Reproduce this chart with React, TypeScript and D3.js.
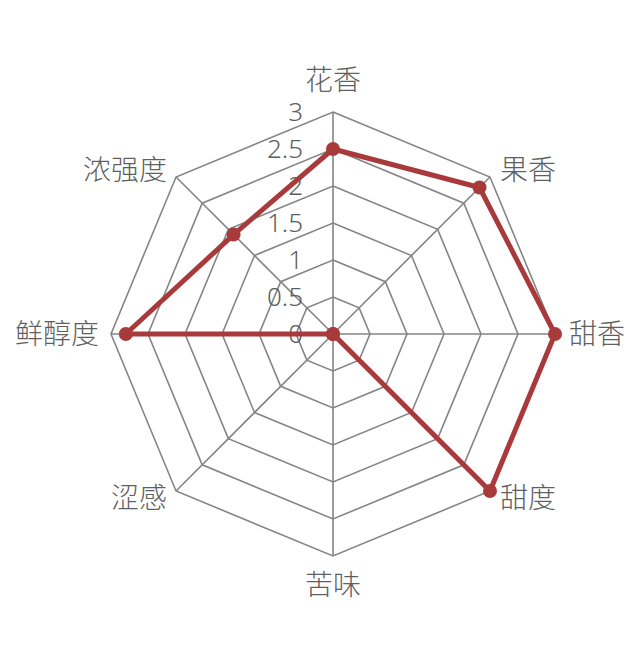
import * as d3 from "d3";
import { useEffect, useRef } from "react";

const WIDTH = 640;
const HEIGHT = 648;

const axes = ["花香", "果香", "甜香", "甜度", "苦味", "涩感", "鲜醇度", "浓强度"];
const values = [2.5, 2.8, 3, 3, 0, 0, 2.8, 1.9];
const ticks = [0, 0.5, 1, 1.5, 2, 2.5, 3];

export default function App() {
    const svgRef = useRef<SVGSVGElement | null>(null);

    useEffect(() => {
        if (!svgRef.current) return;
        const svg = d3.select(svgRef.current);
        svg.selectAll("*").remove();

        const cx = 333;
        const cy = 334;
        const r = d3.scaleLinear().domain([0, 3]).range([0, 222]);
        const angle = d3.scaleLinear().domain([0, axes.length]).range([0, 2 * Math.PI]);
        const pt = (i: number, v: number): [number, number] => [
            cx + r(v) * Math.sin(angle(i)),
            cy - r(v) * Math.cos(angle(i)),
        ];

        const font = "'Noto Sans CJK SC', 'Microsoft YaHei', sans-serif";
        const grid = "#858585";
        const red = "#a93a3c";
        const g = svg.append("g");

        // rings
        ticks.slice(1).forEach((t) => {
            g.append("polygon")
                .attr("points", axes.map((_, i) => pt(i, t).join(",")).join(" "))
                .attr("fill", "none")
                .attr("stroke", grid)
                .attr("stroke-width", 1.6);
        });

        // spokes
        axes.forEach((_, i) => {
            const [x, y] = pt(i, 3);
            g.append("line")
                .attr("x1", cx)
                .attr("y1", cy)
                .attr("x2", x)
                .attr("y2", y)
                .attr("stroke", grid)
                .attr("stroke-width", 1.6);
        });

        // tick labels
        g.selectAll("text.tick")
            .data(ticks)
            .enter()
            .append("text")
            .attr("x", cx - 30)
            .attr("y", (d) => cy - r(d))
            .attr("dy", "0.36em")
            .attr("text-anchor", "end")
            .attr("fill", "#5f5f5f")
            .attr("font-size", 26)
            .attr("font-weight", 300)
            .attr("font-family", "'Noto Sans', sans-serif")
            .text((d) => String(d));

        // category labels
        axes.forEach((name, i) => {
            const s = Math.sin(angle(i));
            const c = Math.cos(angle(i));
            const [x, y] = pt(i, 3);
            const anchor = Math.abs(s) < 0.01 ? "middle" : s > 0 ? "start" : "end";
            const dx = Math.abs(s) < 0.01 ? 0 : s > 0.9 ? 14 : s > 0 ? 10 : s < -0.9 ? -12 : -9;
            const dy = Math.abs(c) > 0.99 ? (c > 0 ? -32 : 29) : Math.abs(c) < 0.01 ? 0 : c > 0 ? -7 : 7;
            g.append("text")
                .attr("x", x + dx)
                .attr("y", y + dy)
                .attr("dy", "0.36em")
                .attr("text-anchor", anchor)
                .attr("fill", "#5f5f5f")
                .attr("font-size", 28)
                .attr("font-weight", 300)
                .attr("font-family", font)
                .text(name);
        });

        // series
        const line = d3
            .line<number>()
            .x((d, i) => pt(i, d)[0])
            .y((d, i) => pt(i, d)[1])
            .curve(d3.curveLinearClosed);

        g.append("path")
            .datum(values)
            .attr("d", line)
            .attr("fill", "none")
            .attr("stroke", red)
            .attr("stroke-width", 5)
            .attr("stroke-linejoin", "round");

        g.selectAll("circle")
            .data(values)
            .enter()
            .append("circle")
            .attr("cx", (d, i) => pt(i, d)[0])
            .attr("cy", (d, i) => pt(i, d)[1])
            .attr("r", 7)
            .attr("fill", red);
    }, []);

    return (
        <svg
            ref={svgRef}
            width={WIDTH}
            height={HEIGHT}
            style={{ display: "block", position: "absolute", left: 0, top: 0, background: "#fff" }}
        />
    );
}
